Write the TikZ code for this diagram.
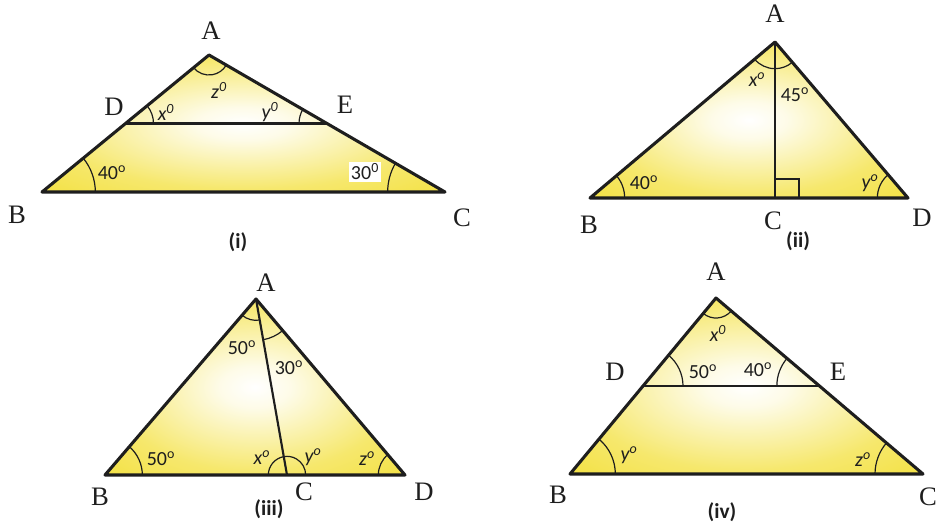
\documentclass[tikz,border=0pt]{standalone}
\usepackage{fontspec}
\setmainfont{Liberation Serif}
\setsansfont{Carlito}
\usetikzlibrary{angles,calc}
\definecolor{ylw}{RGB}{243,224,60}
\definecolor{ink}{RGB}{30,30,30}
\pgfdeclareradialshading{tri}{\pgfpoint{0bp}{0bp}}{color(0bp)=(white); color(6bp)=(ylw!12!white); color(24bp)=(ylw!75!white); color(38bp)=(ylw); color(50bp)=(ylw)}
\tikzset{
  vlab/.style={font=\fontsize{20}{20}\selectfont, text=ink, inner sep=0pt},
  alab/.style={font=\sffamily\fontsize{15}{15}\selectfont, text=ink, inner sep=0pt},
  flab/.style={font=\sffamily\bfseries\fontsize{16}{16}\selectfont, text=ink, inner sep=0pt},
  side/.style={draw=ink, line width=2.3pt, line join=round, line cap=round},
  inner/.style={draw=ink, line width=1.6pt},
  arcm/.style={draw=ink, line width=0.9pt},
  trifill/.style={shading=tri}
}
\newcommand{\dg}{\textsuperscript{o}}
\begin{document}
\begin{tikzpicture}[x=0.75pt,y=-0.75pt]
\useasboundingbox (0,0) rectangle (937,526);
% ---------------- (i) ----------------
\coordinate (iA) at (209,55);
\coordinate (iB) at (42,192);
\coordinate (iC) at (445,192);
\coordinate (iD) at ($(iA)!0.5!(iB)$);
\coordinate (iE) at ($(iA)!0.5!(iC)$);
\shade[trifill] (iA) -- (iB) -- (iC) -- cycle;
\pic[arcm, angle radius=15pt] {angle=iB--iA--iC};
\pic[arcm, angle radius=21pt] {angle=iE--iD--iA};
\pic[arcm, angle radius=21pt] {angle=iA--iE--iD};
\pic[arcm, angle radius=40pt] {angle=iC--iB--iA};
\pic[arcm, angle radius=43pt] {angle=iA--iC--iB};
\draw[inner] (iD) -- (iE);
\draw[side] (iA) -- (iB) -- (iC) -- cycle;
\node[alab] (iz) at (219,90) {\itshape z\textsuperscript{0}};
\node[alab] (ix) at (166,112) {\itshape x\textsuperscript{0}};
\node[alab] (iy) at (270,112) {\itshape y\textsuperscript{0}};
\node[alab] (i40) at (112,173) {40\dg};
\node[alab, fill=white, inner sep=1.5pt] (i30) at (365,172) {30\textsuperscript{0}};
\node[vlab] (iAl) at (211,31) {A};
\node[vlab] (iBl) at (17,215) {B};
\node[vlab] (iCl) at (462,218) {C};
\node[vlab] (iDl) at (114,107) {D};
\node[vlab] (iEl) at (345,105) {E};
\node[flab] (icap) at (238,242) {(i)};
% ---------------- (ii) ----------------
\coordinate (jA) at (775,42);
\coordinate (jB) at (590,198);
\coordinate (jD) at (908,198);
\coordinate (jC) at (775,198);
\shade[trifill] (jA) -- (jB) -- (jD) -- cycle;
\pic[arcm, angle radius=20pt] {angle=jB--jA--jC};
\pic[arcm, angle radius=20pt] {angle=jC--jA--jD};
\pic[arcm, angle radius=26pt] {angle=jD--jB--jA};
\pic[arcm, angle radius=23pt] {angle=jA--jD--jB};
\draw[inner] (jC) -| (799,179) -- (775,179);
\draw[inner] (jA) -- (jC);
\draw[side] (jA) -- (jB) -- (jD) -- cycle;
\node[alab] (jx) at (757,80) {\itshape x\dg};
\node[alab] (j45) at (795,95) {45\dg};
\node[alab] (j40) at (644,183) {40\dg};
\node[alab] (jy) at (870,183) {\itshape y\dg};
\node[vlab] (jAl) at (775,14) {A};
\node[vlab] (jBl) at (589,225) {B};
\node[vlab] (jCl) at (773,221) {C};
\node[vlab] (jDl) at (922,218) {D};
\node[flab] (jcap) at (798,241) {(ii)};
% ---------------- (iii) ----------------
\coordinate (kA) at (256,299);
\coordinate (kB) at (105,475);
\coordinate (kD) at (405,475);
\coordinate (kC) at (287,475);
\shade[trifill] (kA) -- (kB) -- (kD) -- cycle;
\pic[arcm, angle radius=16pt] {angle=kB--kA--kC};
\pic[arcm, angle radius=31pt] {angle=kC--kA--kD};
\pic[arcm, angle radius=28pt] {angle=kD--kB--kA};
\pic[arcm, angle radius=14pt] {angle=kA--kC--kB};
\pic[arcm, angle radius=14pt] {angle=kD--kC--kA};
\pic[arcm, angle radius=20pt] {angle=kA--kD--kB};
\draw[inner] (kA) -- (kC);
\draw[side] (kA) -- (kB) -- (kD) -- cycle;
\node[alab] (k50a) at (242,348) {50\dg};
\node[alab] (k30) at (289,368) {30\dg};
\node[alab] (k50b) at (161,459) {50\dg};
\node[alab] (kx) at (262,458) {\itshape x\dg};
\node[alab] (ky) at (313,457) {\itshape y\dg};
\node[alab] (kz) at (367,459) {\itshape z\dg};
\node[vlab] (kAl) at (266,283) {A};
\node[vlab] (kBl) at (100,497) {B};
\node[vlab] (kCl) at (304,492) {C};
\node[vlab] (kDl) at (424,492) {D};
\node[flab] (kcap) at (269,509) {(iii)};
% ---------------- (iv) ----------------
\coordinate (lA) at (716,298);
\coordinate (lB) at (570,474);
\coordinate (lC) at (923,474);
\coordinate (lD) at ($(lA)!0.5!(lB)$);
\coordinate (lE) at ($(lA)!0.5!(lC)$);
\shade[trifill] (lA) -- (lB) -- (lC) -- cycle;
\pic[arcm, angle radius=15pt] {angle=lB--lA--lC};
\pic[arcm, angle radius=30pt] {angle=lE--lD--lA};
\pic[arcm, angle radius=32pt] {angle=lA--lE--lD};
\pic[arcm, angle radius=34pt] {angle=lC--lB--lA};
\pic[arcm, angle radius=36pt] {angle=lA--lC--lB};
\draw[inner] (lD) -- (lE);
\draw[side] (lA) -- (lB) -- (lC) -- cycle;
\node[alab] (lx) at (718,333) {\itshape x\textsuperscript{0}};
\node[alab] (l50) at (703,372) {50\dg};
\node[alab] (l40) at (758,370) {40\dg};
\node[alab] (ly) at (629,455) {\itshape y\dg};
\node[alab] (lz) at (863,460) {\itshape z\dg};
\node[vlab] (lAl) at (716,272) {A};
\node[vlab] (lBl) at (558,495) {B};
\node[vlab] (lCl) at (928,497) {C};
\node[vlab] (lDl) at (615,372) {D};
\node[vlab] (lEl) at (838,372) {E};
\node[flab] (lcap) at (722,512) {(iv)};
\end{tikzpicture}
\end{document}
